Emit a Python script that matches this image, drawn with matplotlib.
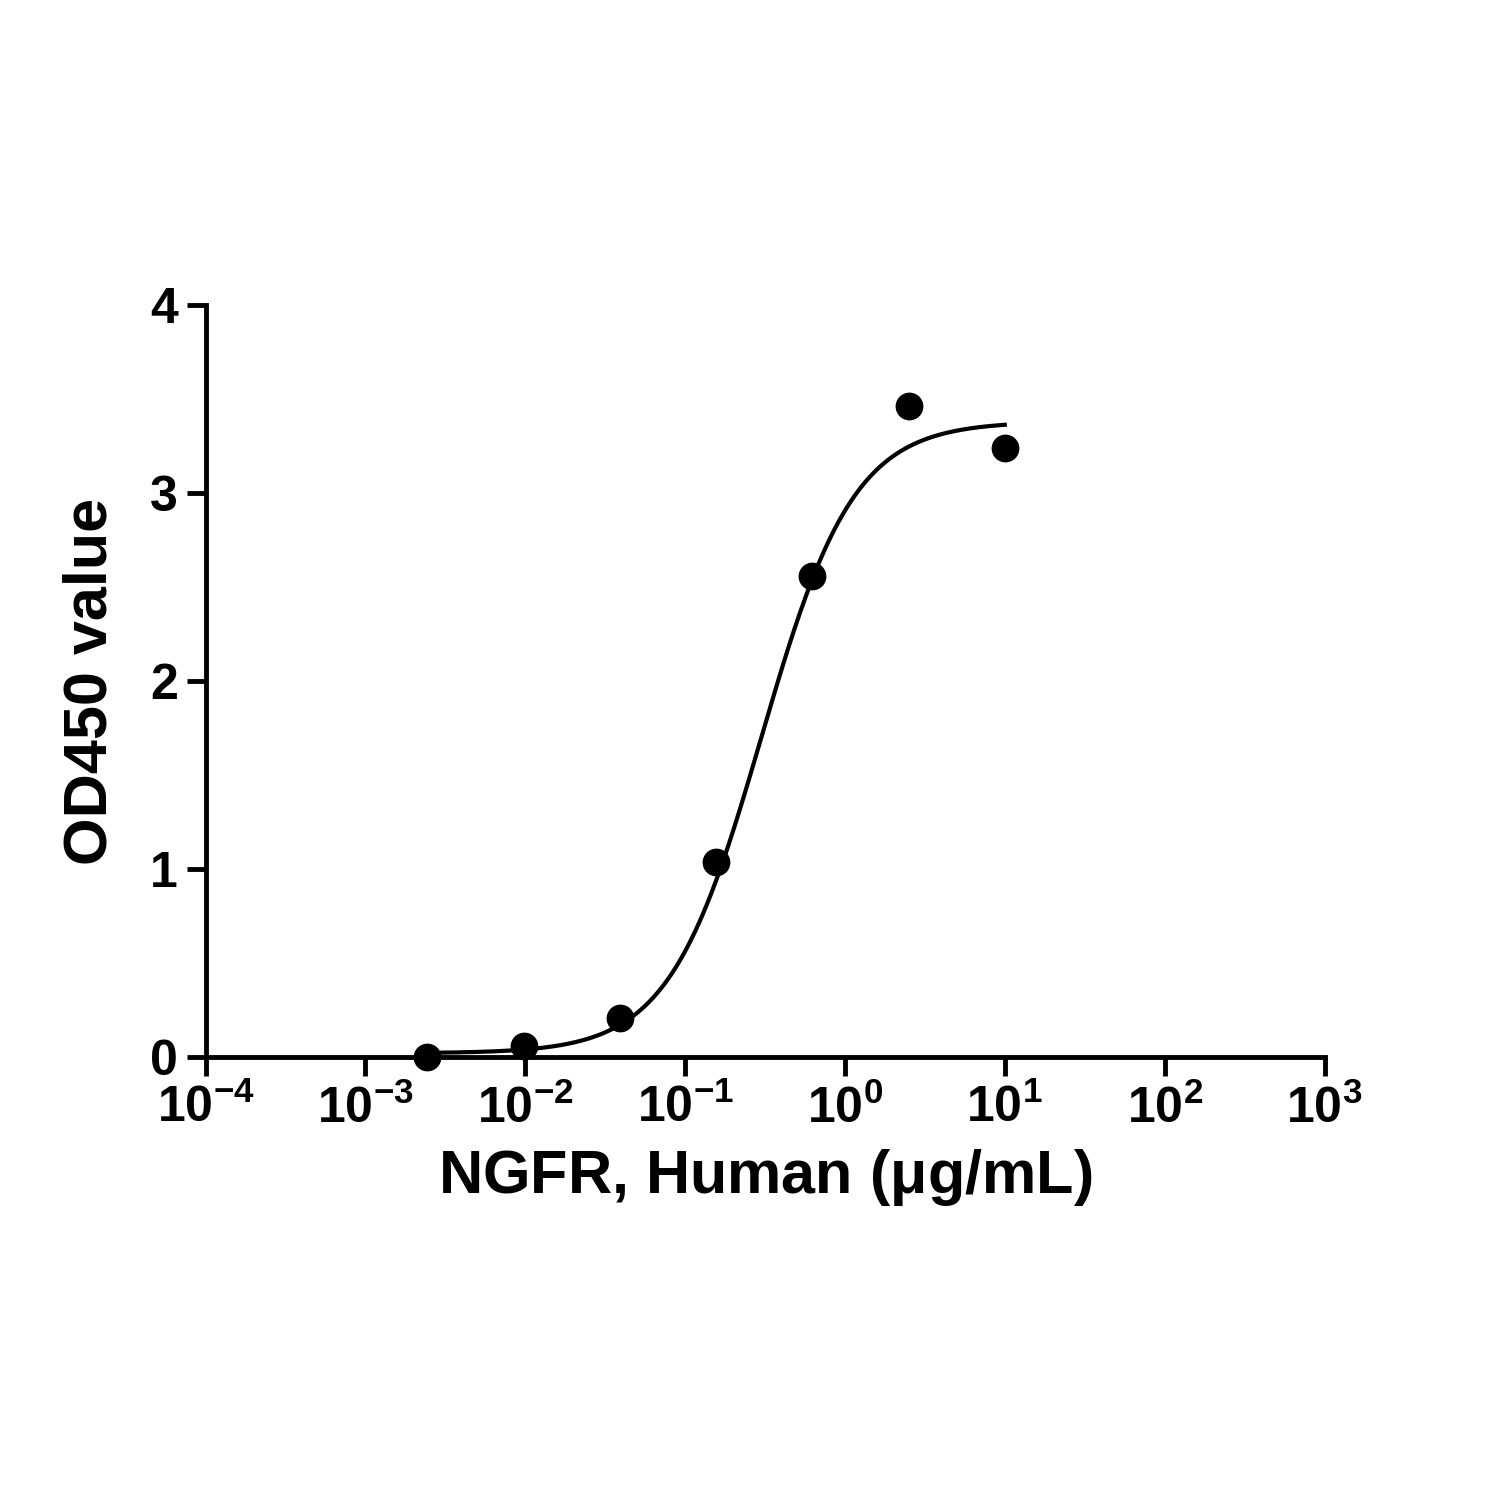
import numpy as np
import matplotlib
matplotlib.use('Agg')
import matplotlib.pyplot as plt

plt.rcParams['font.family'] = ['Liberation Sans', 'DejaVu Sans']
plt.rcParams['font.weight'] = 'bold'
plt.rcParams['mathtext.fontset'] = 'custom'
plt.rcParams['mathtext.rm'] = 'Liberation Sans:bold'
plt.rcParams['mathtext.it'] = 'Liberation Sans:bold'
plt.rcParams['mathtext.bf'] = 'Liberation Sans:bold'

# measured points
conc = [0.00244, 0.0098, 0.039, 0.156, 0.625, 2.5, 10.0]
od450 = [0.0, 0.06, 0.21, 1.04, 2.56, 3.46, 3.24]

# 4PL fit parameters
bottom, top, ec50, hill = 0.02, 3.38, 0.30, 1.5

xticks = [1e-4, 1e-3, 1e-2, 1e-1, 1e0, 1e1, 1e2, 1e3]
xtick_labels = [r'$10^{-4}$', r'$10^{-3}$', r'$10^{-2}$', r'$10^{-1}$',
                r'$10^{0}$', r'$10^{1}$', r'$10^{2}$', r'$10^{3}$']
yticks = [0, 1, 2, 3, 4]

fig = plt.figure(figsize=(15, 15), dpi=100)
ax = fig.add_axes([0.137, 0.2953, 0.746, 0.5014])

xs = np.logspace(np.log10(conc[0]), np.log10(conc[-1]), 300)
ys = bottom + (top - bottom) / (1 + (ec50 / xs) ** hill)
ax.plot(xs, ys, color='black', lw=3)
ax.plot(conc, od450, 'o', color='black', ms=19, clip_on=False)

ax.set_xscale('log')
ax.set_xlim(1e-4, 1e3)
ax.set_ylim(0, 4)
ax.set_xticks(xticks)
ax.set_xticklabels(xtick_labels)
ax.minorticks_off()
ax.set_yticks(yticks)

for s in ['top', 'right']:
    ax.spines[s].set_visible(False)
for s in ['left', 'bottom']:
    ax.spines[s].set_linewidth(3.5)
ax.tick_params(width=3.5, length=14, labelsize=36, pad=6)

ax.set_xlabel(r'NGFR, Human ($\mu$g/mL)', fontsize=44, fontweight='bold', labelpad=10)
ax.set_ylabel('OD450 value', fontsize=44, fontweight='bold', labelpad=22)

fig.savefig('out.png', dpi=100)
